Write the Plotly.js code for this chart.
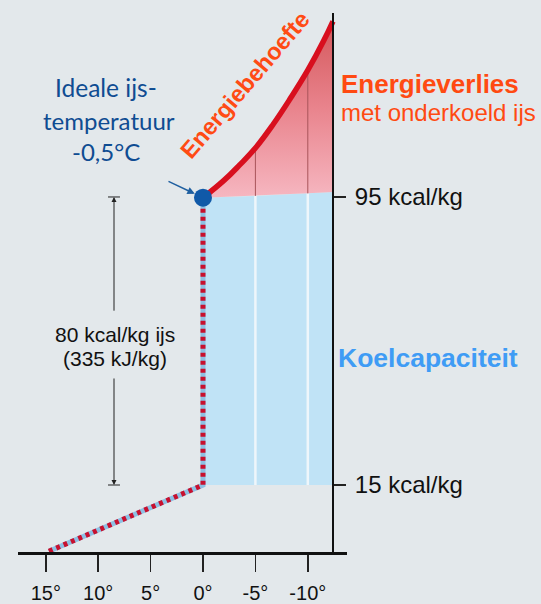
<!DOCTYPE html>
<html>
<head>
<meta charset="utf-8">
<script src="https://cdn.plot.ly/plotly-3.0.1.min.js"></script>
<style>html,body{margin:0;padding:0;background:#e3e8eb;}#chart{width:541px;height:604px;}</style>
</head>
<body>
<div id="chart"></div>
<script>
// ---- data ----
const xTickVals = [15, 10, 5, 0, -5, -10];
const xTickText = ['15°', '10°', '5°', '0°', '-5°', '-10°'];
const yTickVals = [15, 95];
const yTickText = ['15 kcal/kg', '95 kcal/kg'];

// energy required curve (sub-cooled ice), temperature °C vs kcal/kg
const curveT = [0, -2, -3.5, -5, -6.7, -8.3, -10, -11.5, -12.4];
const curveE = [94.8, 99.6, 103.9, 108.6, 115.2, 122.2, 130.2, 138.3, 143.8];

// top edge of cooling capacity band
const bandTopT = [0, -5, -10, -12.4];
const bandTopE = [94.8, 95.3, 96.0, 96.4];
const bandBottomE = 15;

// water cooling / freezing path (dashed)
const pathT = [14.7, 0, 0];
const pathE = [-3.4, 15, 94.8];

// ideal ice point
const dotT = [0];
const dotE = [94.8];

// grid separators
const sepT = [-5, -10];

// latent heat span
const latentTop = 95, latentBottom = 15, latentT = 8.49;

// ---- helpers ----
const W = 541, H = 604;
const px = x => x / W;
const py = y => 1 - y / H;
function interp(xs, ys, x) {
  for (let i = 0; i < xs.length - 1; i++) {
    const a = xs[i], b = xs[i + 1];
    if ((x <= a && x >= b) || (x >= a && x <= b)) {
      return ys[i] + (ys[i + 1] - ys[i]) * (x - a) / (b - a);
    }
  }
  return ys[ys.length - 1];
}

const traces = [];
// blue band polygon
const bandEnd = bandTopT[bandTopT.length - 1];
traces.push({
  x: [bandTopT[0]].concat(bandTopT, [bandEnd]),
  y: [bandBottomE].concat(bandTopE, [bandBottomE]),
  mode: 'lines', fill: 'toself', fillcolor: '#c0e3f6',
  line: {width: 0, color: 'rgba(0,0,0,0)'}, hoverinfo: 'skip'
});
// white separators in band
const wsx = [], wsy = [];
sepT.forEach(t => { wsx.push(t, t, null); wsy.push(bandBottomE, interp(bandTopT, bandTopE, t), null); });
traces.push({x: wsx, y: wsy, mode: 'lines', line: {color: '#eef6fb', width: 2.5}, hoverinfo: 'skip'});
// base for pink fill
traces.push({x: bandTopT, y: bandTopE, mode: 'lines', line: {width: 0, color: 'rgba(0,0,0,0)'}, hoverinfo: 'skip'});
// pink gradient fill
traces.push({
  x: curveT, y: curveE, mode: 'lines', fill: 'tonexty',
  line: {width: 0, color: 'rgba(0,0,0,0)', shape: 'spline', smoothing: 1.2},
  fillgradient: {type: 'vertical', start: 95, stop: 144,
    colorscale: [[0, '#f6b6c0'], [0.5, '#e9848d'], [1, '#d4575b']]},
  hoverinfo: 'skip'
});
// dark separators in pink
const dsx = [], dsy = [];
sepT.forEach(t => { dsx.push(t, t, null); dsy.push(interp(bandTopT, bandTopE, t), interp(curveT, curveE, t), null); });
traces.push({x: dsx, y: dsy, mode: 'lines', line: {color: '#a8545a', width: 1}, hoverinfo: 'skip'});
// red curve
traces.push({x: curveT, y: curveE, mode: 'lines', line: {color: '#d80f1e', width: 5.5, shape: 'spline', smoothing: 1.2}, hoverinfo: 'skip'});
// dashed path
traces.push({x: pathT, y: pathE, mode: 'lines', line: {color: '#8dc0e3', width: 5}, hoverinfo: 'skip'});
traces.push({x: pathT, y: pathE, mode: 'lines', line: {color: '#c8102e', width: 5, dash: '4px,4px'}, hoverinfo: 'skip'});
// dot
traces.push({x: dotT, y: dotE, mode: 'markers', marker: {size: 18, color: '#1059a8'}, hoverinfo: 'skip'});

const fontA = 'Liberation Sans, Arial, sans-serif';
const fontL = 'Lato, Carlito, sans-serif';
const annotations = [
  // pointer to ideal ice dot
  {x: dotT[0], y: dotE[0], xref: 'x', yref: 'y', ax: -36, ay: -17, showarrow: true,
   arrowhead: 2, arrowsize: 1, arrowwidth: 1.5, arrowcolor: '#1f5fa0', standoff: 9, text: ''},
  // latent span arrows
  {x: latentT, y: latentTop, xref: 'x', yref: 'y', ax: latentT, ay: 63, axref: 'x', ayref: 'y',
   showarrow: true, arrowhead: 2, arrowsize: 1, arrowwidth: 1, arrowcolor: '#222', standoff: 0, text: ''},
  {x: latentT, y: latentBottom, xref: 'x', yref: 'y', ax: latentT, ay: 45, axref: 'x', ayref: 'y',
   showarrow: true, arrowhead: 2, arrowsize: 1, arrowwidth: 1, arrowcolor: '#222', standoff: 0, text: ''},
  {x: px(115), y: py(334), xref: 'paper', yref: 'paper', text: '80 kcal/kg ijs', showarrow: false,
   xanchor: 'center', yanchor: 'middle', font: {family: fontA, size: 21, color: '#111'}},
  {x: px(115), y: py(358), xref: 'paper', yref: 'paper', text: '(335 kJ/kg)', showarrow: false,
   xanchor: 'center', yanchor: 'middle', font: {family: fontA, size: 21, color: '#111'}},
  // ideal temperature label
  {x: px(106), y: py(88), xref: 'paper', yref: 'paper', text: 'Ideale ijs-', showarrow: false,
   xanchor: 'center', yanchor: 'middle', font: {family: fontL, size: 24.5, color: '#0f4c92'}},
  {x: px(108.5), y: py(120), xref: 'paper', yref: 'paper', text: 'temperatuur', showarrow: false,
   xanchor: 'center', yanchor: 'middle', font: {family: fontL, size: 24, color: '#0f4c92'}},
  {x: px(106), y: py(152), xref: 'paper', yref: 'paper', text: '-0,5°C', showarrow: false,
   xanchor: 'center', yanchor: 'middle', font: {family: fontL, size: 24, color: '#0f4c92'}},
  // curve label
  {x: px(245), y: py(85), xref: 'paper', yref: 'paper', text: '<b>Energiebehoefte</b>', showarrow: false,
   textangle: -49.5, xanchor: 'center', yanchor: 'middle', font: {family: fontA, size: 23.5, color: '#ff4b14'}},
  // right side labels
  {x: px(339), y: py(84), xref: 'paper', yref: 'paper', text: '<b>Energieverlies</b>', showarrow: false,
   xanchor: 'left', yanchor: 'middle', font: {family: fontA, size: 26, color: '#ff4a12'}},
  {x: px(339), y: py(112), xref: 'paper', yref: 'paper', text: 'met onderkoeld ijs', showarrow: false,
   xanchor: 'left', yanchor: 'middle', font: {family: fontA, size: 24, color: '#ff4a12'}},
  {x: px(336), y: py(358), xref: 'paper', yref: 'paper', text: '<b>Koelcapaciteit</b>', showarrow: false,
   xanchor: 'left', yanchor: 'middle', font: {family: fontA, size: 26.5, color: '#3f9cf5'}}
];

const shapes = [latentTop, latentBottom].map(v => ({
  type: 'line', xref: 'x', yref: 'y', x0: latentT + 0.57, x1: latentT - 0.57, y0: v, y1: v,
  line: {color: '#222', width: 1}
}));

const layout = {
  width: W, height: H,
  margin: {l: 0, r: 0, t: 0, b: 0, pad: 0},
  paper_bgcolor: '#e3e8eb', plot_bgcolor: 'rgba(0,0,0,0)',
  showlegend: false,
  xaxis: {
    domain: [18 / W, 347 / W], range: [17.65, -13.74],
    showgrid: false, zeroline: false, showline: true, linecolor: '#111', linewidth: 2.5,
    ticks: 'outside', ticklen: 17, tickwidth: 1.5, tickcolor: '#222',
    tickmode: 'array', tickvals: xTickVals, ticktext: xTickText,
    tickfont: {family: fontA, size: 20, color: '#111'}, ticklabelstandoff: 4, fixedrange: true
  },
  yaxis: {
    domain: [52 / H, 591 / H], range: [-3.61, 146.1],
    anchor: 'free', position: 333 / W, side: 'right',
    showgrid: false, zeroline: false, showline: true, linecolor: '#111', linewidth: 2,
    ticks: 'outside', ticklen: 12, tickwidth: 1.5, tickcolor: '#222',
    tickmode: 'array', tickvals: yTickVals, ticktext: yTickText,
    tickfont: {family: fontA, size: 24, color: '#111'}, ticklabelstandoff: 4, fixedrange: true
  },
  annotations: annotations,
  shapes: shapes
};

Plotly.newPlot('chart', traces, layout, {displayModeBar: false, staticPlot: true});
</script>
</body>
</html>
